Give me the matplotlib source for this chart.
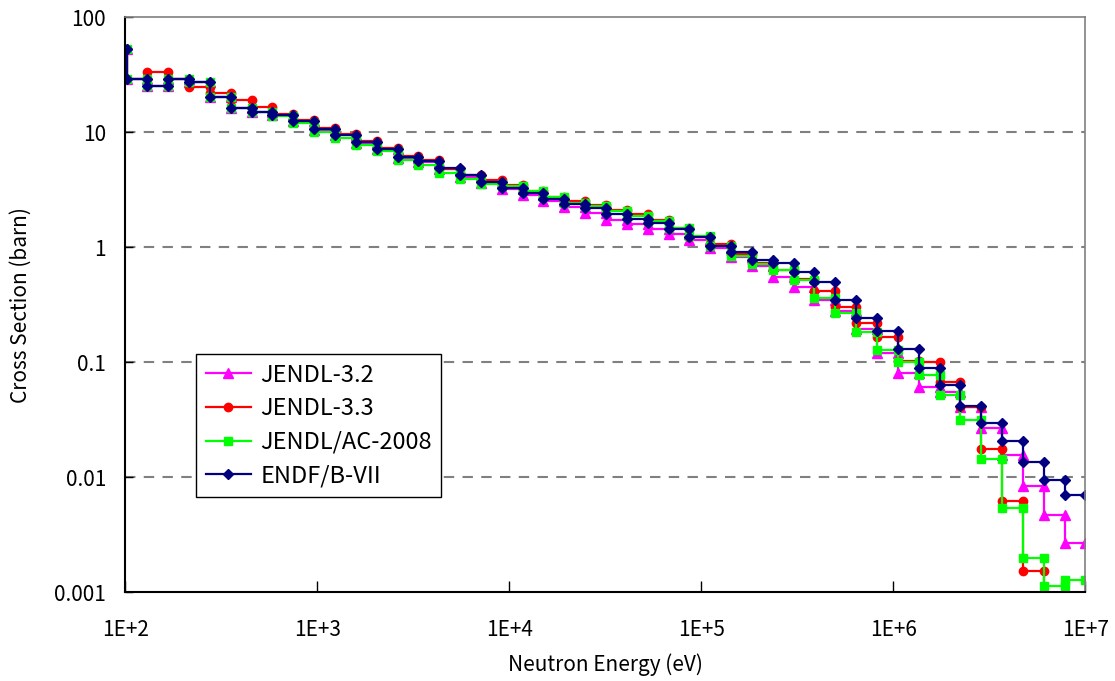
import matplotlib
matplotlib.use("Agg")
import matplotlib.pyplot as plt
import numpy as np

plt.rcParams['font.family'] = ['Noto Sans CJK JP', 'DejaVu Sans']

# 70-group (lethargy width 0.25) boundaries, ascending, eV
edges = np.array([7.8893E+1, 1.0130E+2, 1.3007E+2, 1.6702E+2, 2.1445E+2, 2.7536E+2,
                  3.5357E+2, 4.5400E+2, 5.8295E+2, 7.4852E+2, 9.6112E+2, 1.2341E+3,
                  1.5846E+3, 2.0347E+3, 2.6126E+3, 3.3546E+3, 4.3074E+3, 5.5308E+3,
                  7.1017E+3, 9.1188E+3, 1.1709E+4, 1.5034E+4, 1.9305E+4, 2.4788E+4,
                  3.1828E+4, 4.0868E+4, 5.2475E+4, 6.7379E+4, 8.6517E+4, 1.1109E+5,
                  1.4264E+5, 1.8316E+5, 2.3518E+5, 3.0197E+5, 3.8774E+5, 4.9787E+5,
                  6.3928E+5, 8.2085E+5, 1.0540E+6, 1.3534E+6, 1.7377E+6, 2.2313E+6,
                  2.8650E+6, 3.6788E+6, 4.7237E+6, 6.0653E+6, 7.7880E+6, 1.0000E+7])

jendl32 = [53, 28.9, 25.4, 28.9, 27.0, 20.3, 16.3, 15.0, 14.1, 12.5, 10.5, 9.4, 8.1, 7.1,
           6.0, 5.5, 4.75, 4.1, 3.6, 3.2, 2.85, 2.5, 2.25, 2.0, 1.73, 1.6, 1.44, 1.31,
           1.15, 0.99, 0.83, 0.69, 0.555, 0.454, 0.35, 0.281, 0.194, 0.12, 0.080,
           0.0614, 0.055, 0.0411, 0.0267, 0.0156, 0.00845, 0.0047, 0.00267]
jendl33 = [53, 28.9, 33.3, 28.9, 24.8, 21.8, 19.0, 16.5, 14.4, 12.7, 10.8, 9.6, 8.3, 7.3,
           6.2, 5.7, 4.75, 4.25, 3.8, 3.47, 3.09, 2.75, 2.5, 2.33, 2.11, 1.93, 1.73, 1.48,
           1.22, 1.06, 0.87, 0.73, 0.64, 0.53, 0.42, 0.30, 0.218, 0.167, 0.102,
           0.101, 0.068, 0.0406, 0.0175, 0.00626, 0.00154, 0.0003, 0.0003]
jendlac = [53, 28.9, 25.4, 28.9, 27.0, 20.3, 16.3, 15.0, 13.8, 12.0, 10.0, 8.9, 7.7, 6.9,
           5.7, 5.2, 4.4, 3.95, 3.55, 3.38, 3.05, 2.72, 2.43, 2.26, 2.05, 1.85, 1.68, 1.46,
           1.26, 1.03, 0.84, 0.72, 0.63, 0.52, 0.365, 0.267, 0.183, 0.127, 0.101,
           0.077, 0.052, 0.0315, 0.0144, 0.00537, 0.00201, 0.00114, 0.00128]
endfb7 = [53, 28.9, 25.4, 28.9, 27.0, 20.3, 16.3, 15.0, 14.2, 12.6, 10.6, 9.5, 8.2, 7.2,
          6.1, 5.6, 4.85, 4.2, 3.7, 3.3, 2.98, 2.63, 2.37, 2.18, 1.95, 1.76, 1.62, 1.44,
          1.22, 1.03, 0.906, 0.776, 0.726, 0.614, 0.496, 0.348, 0.244, 0.186, 0.131,
          0.0887, 0.0635, 0.0417, 0.0295, 0.0208, 0.0135, 0.0095, 0.0070]

series = [("JENDL-3.2", jendl32, "#FF00FF", "^", 7),
          ("JENDL-3.3", jendl33, "#FF0000", "o", 6),
          ("JENDL/AC-2008", jendlac, "#00FF00", "s", 6),
          ("ENDF/B-VII", endfb7, "#000080", "D", 5.5)]


def steps(vals):
    # each group -> two points (lower edge, upper edge)
    xs = np.column_stack([edges[:-1], edges[1:]]).ravel()
    ys = np.repeat(vals, 2)
    return xs, ys


fig = plt.figure(figsize=(11.15, 6.81), dpi=100)
ax = fig.add_axes([0.1125, 0.13, 0.861, 0.845])

for name, vals, col, mk, ms in series:
    xs, ys = steps(vals)
    ax.plot(xs, ys, color=col, lw=1.6, marker=mk, ms=ms, mec=col, mfc=col, label=name)

ax.set_xscale("log")
ax.set_yscale("log")
ax.set_xlim(1e2, 1e7)
ax.set_ylim(1e-3, 1e2)

ax.set_xticks([1e2, 1e3, 1e4, 1e5, 1e6, 1e7])
ax.set_xticklabels(["1E+2", "1E+3", "1E+4", "1E+5", "1E+6", "1E+7"])
ax.set_yticks([1e-3, 1e-2, 1e-1, 1, 10, 100])
ax.set_yticklabels(["0.001", "0.01", "0.1", "1", "10", "100"])
ax.minorticks_off()
ax.tick_params(axis="x", direction="in", length=8, width=1, pad=19, labelsize=15)
ax.tick_params(axis="y", direction="in", length=6, width=1, pad=14, labelsize=15)

for y in [1e-2, 1e-1, 1, 10]:
    ax.axhline(y, color="#808080", lw=1.5, ls=(0, (5, 4)), zorder=0)

for s in ["left", "bottom"]:
    ax.spines[s].set_color("black")
    ax.spines[s].set_linewidth(1.5)
for s in ["top", "right"]:
    ax.spines[s].set_color("#808080")
    ax.spines[s].set_linewidth(1.2)

ax.set_xlabel("Neutron Energy (eV)", fontsize=15, labelpad=9)
ax.set_ylabel("Cross Section (barn)", fontsize=15, labelpad=16)

leg = ax.legend(loc="upper left", bbox_to_anchor=(0.074, 0.414), fontsize=17,
                frameon=True, fancybox=False, edgecolor="black", framealpha=1,
                handlelength=1.9, borderpad=0.4, labelspacing=0.45, handletextpad=0.4,
                borderaxespad=0)
leg.get_frame().set_linewidth(1.0)

fig.savefig("out.png", dpi=100)
